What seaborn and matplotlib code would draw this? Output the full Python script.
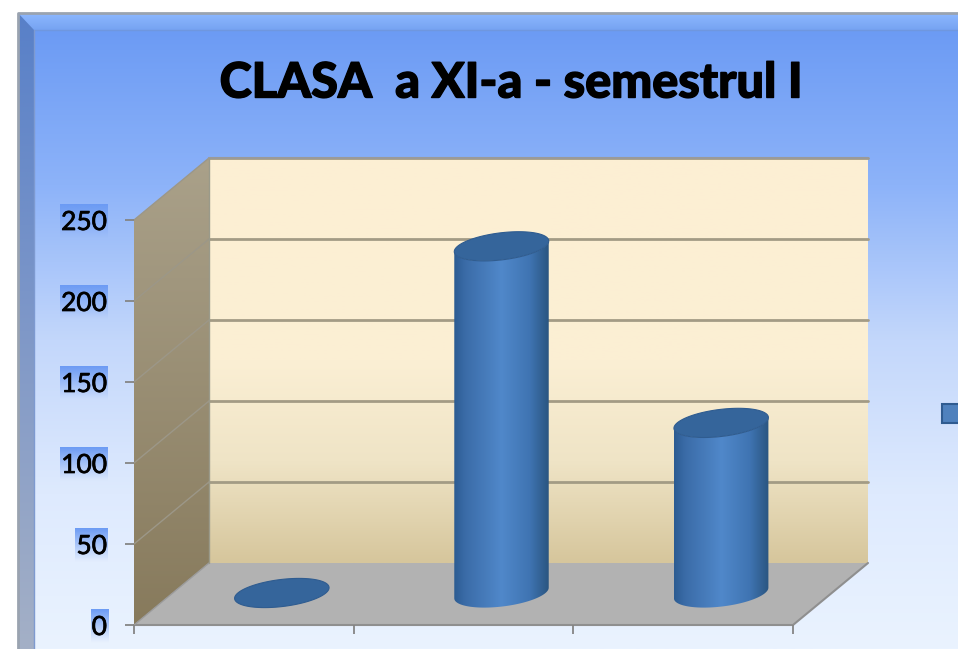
import numpy as np
import pandas as pd
import seaborn as sns
import matplotlib.pyplot as plt
import matplotlib.patheffects as pe
from matplotlib.colors import to_rgb
from matplotlib.patches import Polygon, Rectangle
from matplotlib.path import Path
from matplotlib.transforms import Affine2D, IdentityTransform

title = "CLASA  a XI-a - semestrul I"
categories = ["A", "B", "C"]
values = [0, 214, 105]
yticks = [0, 50, 100, 150, 200, 250]

W, H = 958, 649


def grad(stops, vertical=True):
    # stops = [(pos, color), ...]
    pos = np.linspace(0, 1, 256)
    rgb = np.array([np.interp(pos, [s[0] for s in stops], [to_rgb(s[1])[i] for s in stops]) for i in range(3)]).T
    return rgb[:, None, :] if vertical else rgb[None, :, :]


def px_poly(pts):
    # y counted from the top of the picture, like in the reference
    return [(x, H - y) for x, y in pts]


sns.set_style("white")
plt.rcParams['font.family'] = ['Lato', 'DejaVu Sans']

fig = plt.figure(figsize=(W / 100, H / 100), dpi=100, facecolor="white")

# background panel with bevel
bg = fig.add_axes([0, 0, 1, 1], zorder=0)
bg.set_xlim(0, W)
bg.set_ylim(0, H)
bg.axis("off")
bg_stops = [(0, "#6C9BF4"), (0.25, "#8DB3F9"), (0.5, "#C3D7FB"), (0.75, "#DEEAFE"), (1, "#EAF3FF")]
bg.imshow(grad(bg_stops), extent=(34, W, 0, H - 30), aspect="auto", zorder=1)
bg.imshow(grad([(0, "#8DB8FF"), (1, "#76A3F2")]), extent=(18, W, H - 30, H - 13), aspect="auto", zorder=1)
left = bg.imshow(grad([(0, "#5880C8"), (0.5, "#7F98C8"), (1, "#A4B0C6")]), extent=(18, 34, 0, H - 13), aspect="auto", zorder=2)
left.set_clip_path(Polygon(px_poly([(18, 13), (34, 30), (34, H), (18, H)]), transform=bg.transData))
bg.plot([18, 18, W], [0, H - 13, H - 13], color="#9AA3B0", lw=2, zorder=3)
bg.plot([34, W], [H - 30, H - 30], color="#6F97DF", lw=1, zorder=3)
bg.plot([34, 34], [0, H - 30], color="#7E9AD0", lw=1, zorder=3)
bg.add_patch(Rectangle((942, H - 423), 18, 19, fc="#4F81BD", ec="#2F5B90", lw=1.5, zorder=4))
bg.set_xlim(0, W)
bg.set_ylim(0, H)

# plot axes: front plane of the 3d box
ax = fig.add_axes([134 / W, (H - 625) / H, (793 - 134) / W, (625 - 220) / H], zorder=1)
ax.patch.set_visible(False)
df = pd.DataFrame({"cat": categories, "val": values})
sns.barplot(data=df, x="cat", y="val", color="#3F6FA8", width=0.43, saturation=1, ax=ax)
ax.set_xlim(-0.5, 2.5)
ax.set_ylim(yticks[0], yticks[-1])
ax.set_xticks([-0.5, 0.5, 1.5, 2.5])
ax.set_xticklabels([])
ax.set_yticks(yticks)
ax.set_yticklabels([str(t) for t in yticks], fontsize=19, color="black",
                   path_effects=[pe.withStroke(linewidth=0.5, foreground="black")])
ax.set_xlabel("")
ax.set_ylabel("")
ax.tick_params(axis="both", length=6.5, width=1.3, color="#858585", pad=13, left=True, bottom=True)
for sp in ax.spines.values():
    sp.set_visible(False)

back = ax.transData + Affine2D().translate(75, 62)
mid = ax.transData + Affine2D().translate(38, 32)
ident = IdentityTransform()

x0, x1 = ax.get_xlim()
f0 = ax.transData.transform((x0, 0))
f1 = ax.transData.transform((x1, 0))
ft = ax.transData.transform((x0, yticks[-1]))
b0 = back.transform((x0, 0))
b1 = back.transform((x1, 0))
bt = back.transform((x0, yticks[-1]))
bt1 = back.transform((x1, yticks[-1]))

# back wall
wall_stops = [(0, "#FDEFD3"), (0.5, "#FBEFD4"), (0.75, "#EFE4C6"), (1, "#D6C69C")]
ax.imshow(grad(wall_stops), extent=(x0, x1, 0, yticks[-1]), aspect="auto", transform=back, zorder=0.1, clip_on=False)

# side wall
side = ax.imshow(grad([(0, "#AAA18A"), (1, "#877A5C")]), extent=(f0[0], b0[0], f0[1], bt[1]), aspect="auto",
                 transform=ident, zorder=0.2)
side.set_clip_box(fig.bbox)
side.set_clip_path(Polygon([f0, b0, bt, ft], transform=ident))

# floor
ax.add_patch(Polygon([f0, f1, b1, b0], transform=ident, fc="#B2B2B2", ec="none", zorder=0.3, clip_on=False))

# grid lines
for t in yticks[1:]:
    ax.plot([x0, x1], [t, t], transform=back, color="#A39B85", lw=2, zorder=0.4, clip_on=False)
    p = ax.transData.transform((x0, t))
    q = back.transform((x0, t))
    ax.plot([p[0], q[0]], [p[1], q[1]], transform=ident, color="#9C9788", lw=1, zorder=0.4, clip_on=False)
ax.plot([f0[0], f1[0], b1[0]], [f0[1], f1[1], b1[1]], transform=ident, color="#8F8F8F", lw=1.5, zorder=0.5, clip_on=False)
ax.plot([f0[0], b0[0]], [f0[1], b0[1]], transform=ident, color="#9B9B9B", lw=1, zorder=0.5, clip_on=False)
ax.plot([bt[0], bt1[0]], [bt[1], bt1[1]], transform=ident, color="#9A9A9A", lw=1.5, zorder=0.5, clip_on=False)
ax.plot([b0[0], bt[0]], [b0[1], bt[1]], transform=ident, color="#9A9A8A", lw=1, zorder=0.5, clip_on=False)

# cylinders, built on the bars seaborn drew
tilt = np.deg2rad(7)
ell_b = 13.5
cyl_stops = [(0, "#2C5C92"), (0.12, "#3B6CA8"), (0.5, "#5088CA"), (0.8, "#3F74B2"), (1, "#2A5580")]


def ellipse(cx, cy, a, t):
    return np.column_stack([cx + a * np.cos(t) * np.cos(tilt) - ell_b * np.sin(t) * np.sin(tilt),
                            cy + a * np.cos(t) * np.sin(tilt) + ell_b * np.sin(t) * np.cos(tilt)])


for bar in ax.patches:
    if not isinstance(bar, Rectangle) or bar.get_width() > 1:
        continue
    bx, bw, bh = bar.get_x(), bar.get_width(), bar.get_height()
    l_base = mid.transform((bx, 0))
    r_top = mid.transform((bx + bw, bh))
    cx = (l_base[0] + r_top[0]) / 2
    half = (r_top[0] - l_base[0]) / 2
    # half axis so the outline keeps the width of the bar
    a = np.sqrt(max(half ** 2 - (ell_b * np.sin(tilt)) ** 2, 1) / np.cos(tilt) ** 2)
    t_right = np.arctan2(-ell_b * np.sin(tilt), a * np.cos(tilt))
    arc = np.linspace(t_right - np.pi, t_right, 60)
    base_arc = ellipse(cx, l_base[1], a, arc)
    top_arc = ellipse(cx, r_top[1], a, arc)[::-1]
    bar.set_visible(False)
    if bh > 0:
        body = np.vstack([base_arc, top_arc])
        verts = np.vstack([body, body[:1]])
        codes = [Path.MOVETO] + [Path.LINETO] * (len(verts) - 2) + [Path.CLOSEPOLY]
        path = Path(verts, codes)
        im = ax.imshow(grad(cyl_stops, vertical=False), extent=(cx - half, cx + half, l_base[1] - 30, r_top[1] + 30),
                       aspect="auto", transform=ident, zorder=3)
        im.set_clip_box(fig.bbox)
        im.set_clip_path(path, transform=ident)
    cap = ellipse(cx, r_top[1], a, np.linspace(0, 2 * np.pi, 120))
    ax.add_patch(Polygon(cap, closed=True, transform=ident, fc="#35659B", ec="#2F5C90", lw=0.8, zorder=4, clip_on=False))

ax.set_xlim(x0, x1)
ax.set_ylim(yticks[0], yticks[-1])

# blue highlight behind y tick labels
fig.canvas.draw()
for lab in ax.get_yticklabels():
    ext = lab.get_window_extent()
    rgba = np.zeros((64, 1, 4))
    rgba[:, 0, :3] = to_rgb("#6C9BF4")
    rgba[:, 0, 3] = np.linspace(1, 0, 64) ** 1.1
    bg.imshow(rgba, extent=(ext.x0 - 1, ext.x1 + 1, ext.y0 - 3, ext.y1 + 6), aspect="auto", zorder=5)
bg.set_xlim(0, W)
bg.set_ylim(0, H)

fig.text(511 / W, (H - 83) / H, title, ha="center", va="center", fontsize=35, fontweight="black", color="black",
         path_effects=[pe.withStroke(linewidth=1, foreground="black")])

fig.savefig("out.png", dpi=100)
